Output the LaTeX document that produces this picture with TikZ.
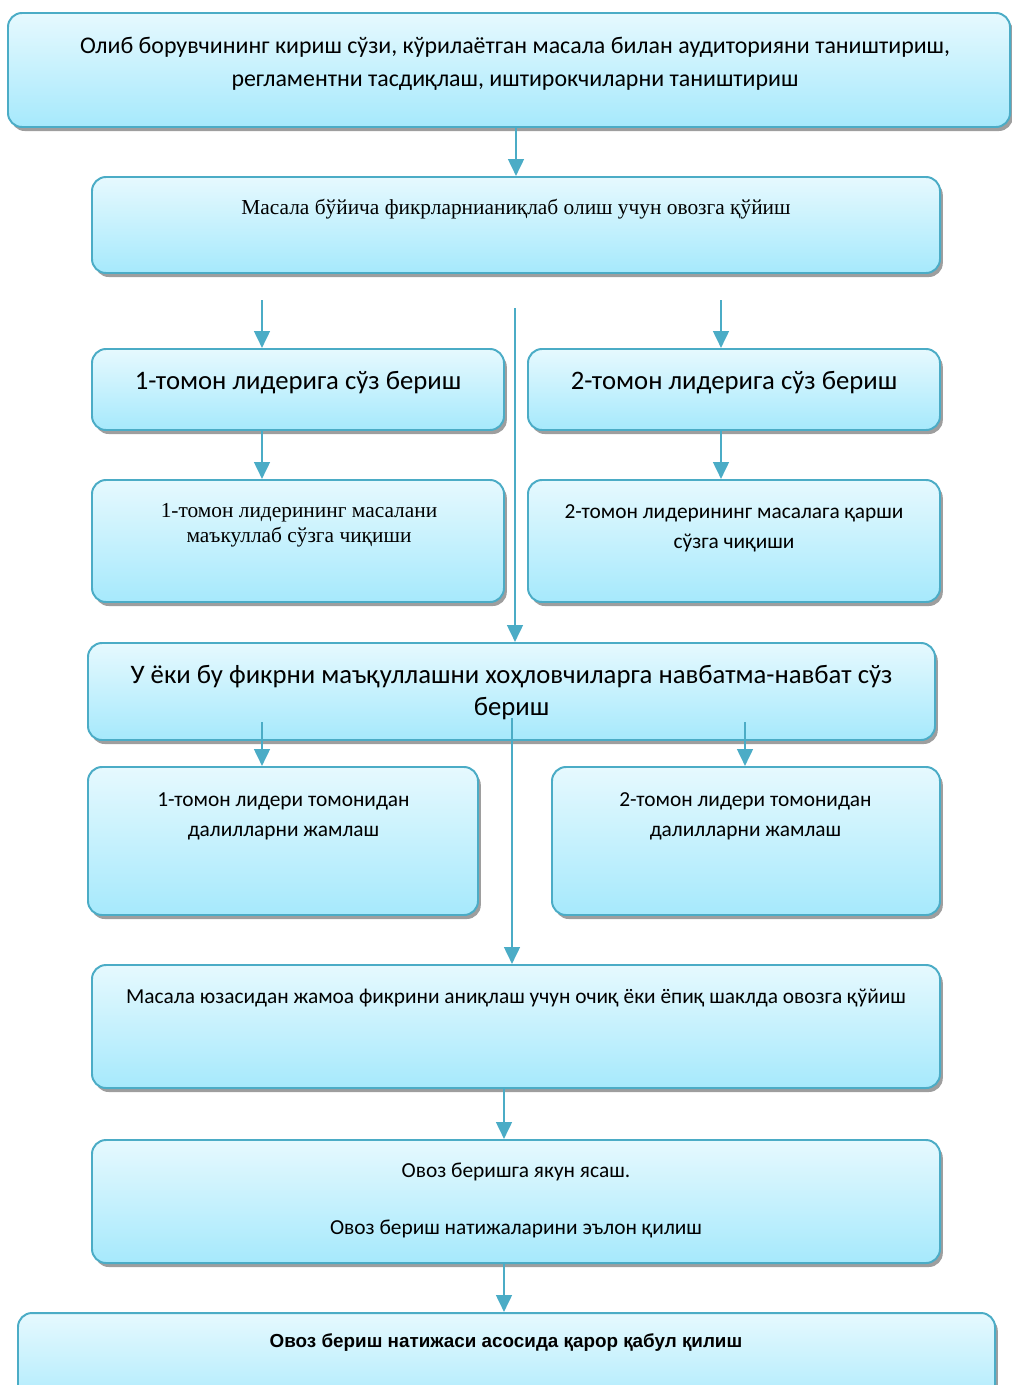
\documentclass[tikz,border=0pt]{standalone}
\usepackage{fontspec}
\setmainfont{Carlito}
\newfontfamily\timesfont{Liberation Serif}
\newfontfamily\arialfont{Liberation Sans}
\usetikzlibrary{shadows,arrows.meta,calc}
\definecolor{boxline}{HTML}{4BACC6}
\definecolor{boxtop}{HTML}{E6F9FE}
\definecolor{boxbot}{HTML}{A6E9FC}
\definecolor{shade}{HTML}{9E9E9E}

\begin{document}
\begin{tikzpicture}[x=0.25mm, y=-0.25mm, >={Triangle[length=12pt,width=11pt]},
  box/.style={draw=boxline, line width=1.4pt, rounded corners=3.5mm, top color=boxtop, bottom color=boxbot,
    inner sep=0pt, drop shadow={shadow xshift=0.7mm, shadow yshift=-1mm, fill=shade, opacity=1}},
  txt/.style={align=center, inner sep=0pt, font=\fontsize{15.2}{21.5}\selectfont},
  big/.style={align=center, inner sep=0pt, font=\fontsize{19}{22.7}\selectfont},
  serif/.style={align=center, inner sep=0pt, font=\timesfont\fontsize{15.2}{17.7}\selectfont},
  flow/.style={draw=boxline, line width=2pt}]

\useasboundingbox (0,0) rectangle (1012,1385);
\clip (0,0) rectangle (1012,1385);

% boxes
\node[box, minimum width=250.5mm, minimum height=28.5mm] at (509, 70) (Intro) {};
\node[box, minimum width=212mm, minimum height=24mm] at (516, 225) (Vote) {};
\node[box, minimum width=103mm, minimum height=20.25mm] at (298, 389.5) (Lead1) {};
\node[box, minimum width=103mm, minimum height=20.25mm] at (734, 389.5) (Lead2) {};
\node[box, minimum width=103mm, minimum height=30.5mm] at (298, 541) (Pro1) {};
\node[box, minimum width=103mm, minimum height=30.5mm] at (734, 541) (Contra2) {};
\node[box, minimum width=211.75mm, minimum height=24.25mm] at (511.5, 691.5) (Turns) {};
\node[box, minimum width=97.5mm, minimum height=37mm] at (283, 841) (Arg1) {};
\node[box, minimum width=97mm, minimum height=37mm] at (746, 841) (Arg2) {};
\node[box, minimum width=212mm, minimum height=30.75mm] at (516, 1026.5) (Poll) {};
\node[box, minimum width=212mm, minimum height=30.75mm] at (516, 1201.5) (Result) {};
\node[box, minimum width=244.25mm, minimum height=26.5mm] at (506.5, 1366) (Decision) {};

% texts
\node[txt, font=\fontsize{17}{23.4}\selectfont] at (515, 63.5) (IntroT) {Олиб борувчининг кириш сўзи, кўрилаётган масала билан аудиторияни таништириш,\\регламентни тасдиқлаш, иштирокчиларни таништириш};
\node[serif] at (516, 209) (VoteT) {Масала бўйича фикрларнианиқлаб олиш учун овозга қўйиш};
\node[big] at (298, 383) (Lead1T) {1-томон лидерига сўз бериш};
\node[big] at (734, 383) (Lead2T) {2-томон лидерига сўз бериш};
\node[serif] at (299, 525.5) (Pro1T) {1-томон лидерининг масалани\\маъкуллаб сўзга чиқиши};
\node[txt] at (734, 528) (Contra2T) {2-томон лидерининг масалага қарши\\сўзга чиқиши};
\node[big] at (511.5, 693) (TurnsT) {У ёки бу фикрни маъқуллашни хоҳловчиларга навбатма-навбат сўз\\бериш};
\node[txt] at (283.5, 816) (Arg1T) {1-томон лидери томонидан\\далилларни жамлаш};
\node[txt] at (745.5, 816) (Arg2T) {2-томон лидери томонидан\\далилларни жамлаш};
\node[txt] at (516, 998) (PollT) {Масала юзасидан жамоа фикрини аниқлаш учун очиқ ёки ёпиқ шаклда овозга қўйиш};
\node[txt] at (516, 1200.5) (ResultT) {Овоз беришга якун ясаш.\\[19pt]Овоз бериш натижаларини эълон қилиш};
\node[align=center, inner sep=0pt, font=\arialfont\bfseries\fontsize{13.4}{15}\selectfont] at (506, 1343) (DecisionT) {Овоз бериш натижаси асосида қарор қабул қилиш};

% free ends
\coordinate (Top1) at (262, 300);
\coordinate (Top2) at (721, 300);
\coordinate (Mid1) at (515, 308);
\coordinate (Low1) at (262, 722);
\coordinate (Low2) at (745, 722);
\coordinate (Mid2) at (512, 718);

% arrows
\draw [->, flow] ($(Intro.south)+(7,0)$) -- (Vote.north);
\draw [->, flow] (Top1) -- (Top1 |- Lead1.north);
\draw [->, flow] (Top2) -- (Top2 |- Lead2.north);
\draw [->, flow] ($(Lead1.south)+(-36,0)$) -- ($(Pro1.north)+(-36,0)$);
\draw [->, flow] ($(Lead2.south)+(-13,0)$) -- ($(Contra2.north)+(-13,0)$);
\draw [->, flow] (Mid1) -- (Mid1 |- Turns.north);
\draw [->, flow] (Low1) -- (Low1 |- Arg1.north);
\draw [->, flow] (Low2) -- (Low2 |- Arg2.north);
\draw [->, flow] (Mid2) -- (Mid2 |- Poll.north);
\draw [->, flow] ($(Poll.south)+(-12,0)$) -- ($(Result.north)+(-12,0)$);
\draw [->, flow] ($(Result.south)+(-12,0)$) -- ($(Decision.north)+(-2.5,0)$);

\end{tikzpicture}
\end{document}
